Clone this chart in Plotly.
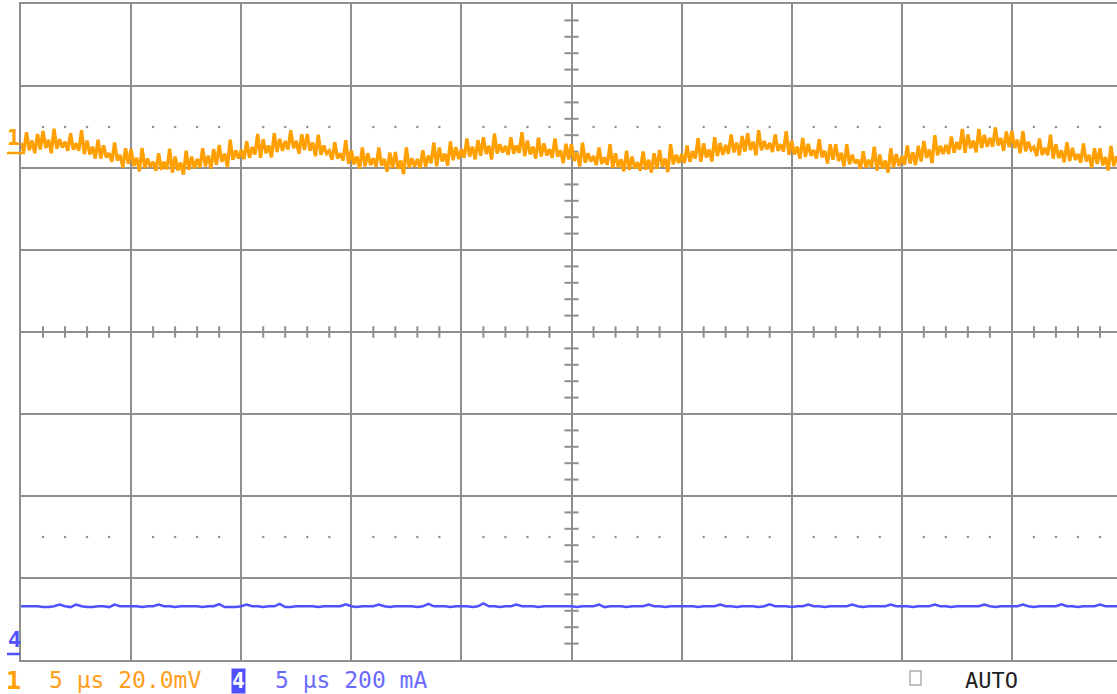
import numpy as np
import plotly.graph_objects as go

# ---------------- data ----------------
# Channel 1: output ripple, mV relative to the CH1 ground marker, sampled every 0.125 us
CH1_STEP_US = 0.125
ch1_mv = [
    2.5, 0.4, 5.1, 0.7, 3.1, 0.0, 4.7, 0.9,
    5.4, 1.3, 3.3, 0.0, 6.0, 1.1, 3.4, 1.4,
    2.8, 0.6, 4.9, 0.9, 2.4, 0.6, 5.6, -0.2,
    3.1, -0.3, 1.6, -1.3, 3.3, -1.3, 1.9, -1.0,
    0.0, -2.1, 2.6, -1.8, -0.4, -3.5, 1.2, -2.6,
    1.0, -3.1, -1.1, -4.4, 1.3, -3.6, -1.3, -3.3,
    -2.1, -4.3, 0.0, -4.0, -2.1, -3.9, 1.1, -4.7,
    -0.8, -4.2, -2.3, -5.2, 0.6, -4.0, -0.8, -3.7,
    -1.4, -3.5, 1.2, -3.2, -0.6, -3.7, 1.0, -2.8,
    2.0, -2.1, -0.1, -3.4, 3.3, -1.6, 0.7, -1.3,
    0.8, -1.4, 2.9, -1.1, 1.5, -0.3, 4.7, -1.1,
    3.4, 0.0, 1.9, -1.0, 4.9, 0.3, 3.5, 0.6,
    3.0, 0.9, 5.6, 1.2, 3.0, -0.1, 4.6, 0.8,
    4.7, 0.6, 2.6, -0.7, 4.5, -0.4, 1.9, -0.1,
    0.6, -1.6, 2.7, -1.3, 0.0, -1.8, 3.2, -2.6,
    0.7, -2.7, -0.8, -3.7, 1.4, -3.2, 0.0, -2.9,
    -1.2, -3.3, 1.4, -3.0, -1.4, -4.5, 0.2, -3.6,
    0.3, -3.8, -1.8, -5.1, 1.4, -3.5, -1.2, -3.2,
    -1.4, -3.6, 0.7, -3.3, -0.6, -2.4, 2.6, -3.2,
    1.4, -2.0, -0.1, -3.0, 2.9, -1.7, 1.5, -1.4,
    1.0, -1.1, 3.6, -0.8, 1.6, -1.5, 3.2, -0.6,
    3.9, -0.2, 1.8, -1.5, 4.8, -0.1, 2.2, 0.2,
    1.8, -0.4, 3.9, -0.1, 1.9, 0.1, 5.1, -0.7,
    3.1, -0.3, 1.6, -1.3, 3.8, -0.8, 2.4, -0.5,
    1.0, -1.1, 3.6, -0.8, 0.7, -2.4, 2.3, -1.5,
    2.2, -1.9, 0.1, -3.2, 2.6, -2.3, 0.0, -2.0,
    -0.7, -2.9, 1.4, -2.6, -1.0, -2.8, 2.2, -3.6,
    0.0, -3.4, -1.5, -4.4, 0.6, -4.0, -0.8, -3.7,
    -2.2, -4.3, 0.4, -4.0, -1.6, -4.7, 0.0, -3.8,
    0.8, -3.3, -1.3, -4.6, 2.2, -2.7, -0.4, -2.4,
    -0.2, -2.4, 1.9, -2.1, 0.5, -1.3, 3.7, -2.1,
    2.4, -1.0, 0.9, -2.0, 3.9, -0.7, 2.5, -0.4,
    2.0, -0.1, 4.6, 0.2, 2.6, -0.5, 4.2, 0.4,
    4.9, 0.8, 2.8, -0.5, 5.6, 0.7, 3.0, 1.0,
    2.5, 0.3, 4.6, 0.6, 2.2, 0.4, 5.4, -0.4,
    3.1, -0.3, 1.6, -1.3, 3.7, -0.9, 2.3, -0.6,
    0.8, -1.3, 3.4, -1.0, 0.6, -2.5, 2.2, -1.6,
    2.2, -1.9, 0.1, -3.2, 2.2, -2.7, -0.4, -2.4,
    -1.6, -3.8, 0.5, -3.5, -1.6, -3.4, 1.6, -4.2,
    -0.3, -3.7, -1.8, -4.7, 1.2, -3.4, -0.2, -3.1,
    -0.7, -2.8, 1.9, -2.5, 0.2, -2.9, 1.8, -2.0,
    3.0, -1.1, 0.9, -2.4, 4.4, -0.5, 1.8, -0.2,
    2.0, -0.2, 4.1, 0.1, 2.7, 0.9, 5.9, 0.1,
    4.6, 1.2, 3.1, 0.2, 5.9, 1.3, 4.5, 1.6,
    3.7, 1.6, 6.3, 1.9, 3.7, 0.6, 5.3, 1.5,
    5.4, 1.3, 3.3, 0.0, 5.4, 0.5, 2.8, 0.8,
    1.5, -0.7, 3.6, -0.4, 1.3, -0.5, 4.5, -1.3,
    2.2, -1.2, 0.7, -2.2, 2.7, -1.9, 1.3, -1.6,
    -0.2, -2.3, 2.4, -2.0, -0.4, -3.5, 1.2, -2.6,
    1.2, -2.9, -0.9, -4.2, 1.8, -3.1, -0.8, -2.8,
    -1.2,
]

# Channel 4: inductor/load current, mA relative to the CH4 ground marker, every 0.25 us
CH4_STEP_US = 0.25
ch4_ma = [
    117, 117, 117, 117, 115, 115, 117, 121, 117, 115, 121, 117, 115, 115, 117, 117, 115, 121, 117, 117,
    117, 117, 115, 117, 117, 121, 117, 117, 115, 117, 117, 117, 117, 115, 117, 117, 122, 115, 115, 115,
    117, 121, 117, 117, 115, 117, 117, 123, 115, 115, 117, 117, 117, 117, 115, 117, 117, 117, 117, 122,
    117, 115, 117, 117, 117, 121, 117, 115, 117, 117, 117, 117, 115, 117, 123, 117, 117, 117, 115, 117,
    117, 117, 115, 117, 124, 117, 117, 115, 117, 117, 121, 117, 117, 117, 115, 117, 117, 117, 117, 117,
    117, 115, 117, 117, 117, 121, 115, 117, 117, 117, 115, 117, 117, 117, 121, 117, 117, 115, 117, 117,
    117, 117, 117, 115, 117, 117, 117, 121, 117, 117, 115, 117, 117, 117, 115, 117, 122, 117, 117, 117,
    115, 117, 117, 121, 117, 117, 115, 117, 117, 117, 117, 121, 117, 115, 117, 117, 117, 117, 121, 117,
    117, 117, 115, 117, 117, 117, 121, 117, 117, 115, 117, 117, 117, 117, 117, 121, 117, 115, 117, 117,
    117, 117, 121, 117, 115, 117, 117, 117, 117, 122, 117, 117, 115, 117, 117, 117, 121, 117, 117, 117,
    117,
]

# Scope settings / labels
CH1_SCALE_MV_DIV = 20.0
CH4_SCALE_MA_DIV = 200.0
TIME_DIV_US = 5.0
CH1_GND_DIV = 2.18     # CH1 ground marker position (div from centre)
CH4_GND_DIV = -3.93    # CH4 ground marker position (div from centre)
TRIGGER_US = 6.95
ch1_label = "5 μs 20.0mV"
ch4_label = "5 μs 200 mA"
mode_label = "AUTO"

# ---------------- geometry ----------------
W, H = 1117, 694
ML, MR, MT, MB = 21, 0, 4, 34
PLOT_W = W - ML - MR
PLOT_H = H - MT - MB
PX_PER_DIV_X = 110.1
X_MAX = PLOT_W / PX_PER_DIV_X * TIME_DIV_US


def px_x(px):
    return (px - ML) / PLOT_W


def px_y(py):
    return (H - MB - py) / PLOT_H


ORANGE = "#ffa000"
BLUE = "#5050ff"
GRID = "#8e8e8e"

fig = go.Figure()

# centre graticule minor ticks
tx, ty = [], []
for k in range(0, 51):
    if k % 5 == 0:
        continue
    tx += [k, k, None]
    ty += [-0.07, 0.07, None]
for k in range(-20, 21):
    if k % 5 == 0:
        continue
    tx += [25 - 0.32, 25 + 0.32, None]
    ty += [k / 5, k / 5, None]
fig.add_trace(go.Scatter(x=tx, y=ty, mode="lines", line=dict(color=GRID, width=2),
                         hoverinfo="skip", showlegend=False))

# dotted reference rows
dx, dy = [], []
for yy in (2.5, -2.5):
    for k in range(0, 51):
        if k % 5 == 0:
            continue
        dx.append(k)
        dy.append(yy)
fig.add_trace(go.Scatter(x=dx, y=dy, mode="markers",
                         marker=dict(color="#909090", size=2.2, symbol="square"),
                         hoverinfo="skip", showlegend=False))

# channel traces
t1 = np.arange(len(ch1_mv)) * CH1_STEP_US
y1 = CH1_GND_DIV + np.array(ch1_mv) / CH1_SCALE_MV_DIV
fig.add_trace(go.Scatter(x=t1, y=y1, mode="lines", line=dict(color=ORANGE, width=3.3),
                         name="CH1", showlegend=False))

t4 = np.arange(len(ch4_ma)) * CH4_STEP_US
y4 = CH4_GND_DIV + np.array(ch4_ma) / CH4_SCALE_MA_DIV
fig.add_trace(go.Scatter(x=t4, y=y4, mode="lines", line=dict(color=BLUE, width=2.5),
                         name="CH4", showlegend=False))

# trigger position marker
fig.add_trace(go.Scatter(x=[TRIGGER_US], y=[-4.05], mode="markers", cliponaxis=False,
                         marker=dict(symbol="triangle-up", size=10, color=ORANGE),
                         hoverinfo="skip", showlegend=False))

fig.update_xaxes(range=[0, X_MAX], dtick=TIME_DIV_US, tick0=0, showgrid=True,
                 gridcolor=GRID, gridwidth=2, showticklabels=False, ticks="",
                 zeroline=False, showline=True, linecolor=GRID, linewidth=2, mirror=True)
fig.update_yaxes(range=[-4, 4], dtick=1, tick0=0, showgrid=True,
                 gridcolor=GRID, gridwidth=2, showticklabels=False, ticks="",
                 zeroline=False, showline=True, linecolor=GRID, linewidth=2, mirror=False)

MONO = "DejaVu Sans Mono, Liberation Mono, monospace"


def label(px, py, text, size, color, xanchor="center", **kw):
    return dict(x=px_x(px), y=px_y(py), xref="paper", yref="paper", text=text,
                xanchor=xanchor, yanchor="middle", showarrow=False,
                font=dict(family=MONO, size=size, color=color), **kw)


ann = [
    # left channel ground markers
    label(13, 138, "<b>1</b>", 22, ORANGE),
    label(14, 639, "<b>4</b>", 22, BLUE),
    # status line
    label(13, 680, "<b>1</b>", 25, ORANGE),
    label(47, 680, ch1_label, 23, "#ff9e1a", xanchor="left"),
    label(238, 681, "<b>4</b>", 21, "white", bgcolor=BLUE, borderpad=0),
    label(273, 680, ch4_label, 23, "#6a6aff", xanchor="left"),
    label(963, 680, mode_label, 22, "#222222", xanchor="left"),
]

shapes = [
    dict(type="line", xref="paper", yref="paper", x0=px_x(7), x1=px_x(25),
         y0=px_y(153), y1=px_y(153), line=dict(color=ORANGE, width=2.5)),
    dict(type="line", xref="paper", yref="paper", x0=px_x(7), x1=px_x(20),
         y0=px_y(654), y1=px_y(654), line=dict(color=BLUE, width=2.5)),
    dict(type="rect", xref="paper", yref="paper", x0=px_x(910), x1=px_x(921),
         y0=px_y(685), y1=px_y(671), line=dict(color="#b0b0b0", width=1.5)),
]

fig.update_layout(width=W, height=H, margin=dict(l=ML, r=MR, t=MT, b=MB),
                  paper_bgcolor="white", plot_bgcolor="white",
                  annotations=ann, shapes=shapes, showlegend=False)

fig.write_html(
    "out.html",
    config={"displayModeBar": False},
    post_script="document.body.style.margin='0';document.body.style.overflow='hidden';"
                "document.documentElement.style.overflow='hidden';",
)
